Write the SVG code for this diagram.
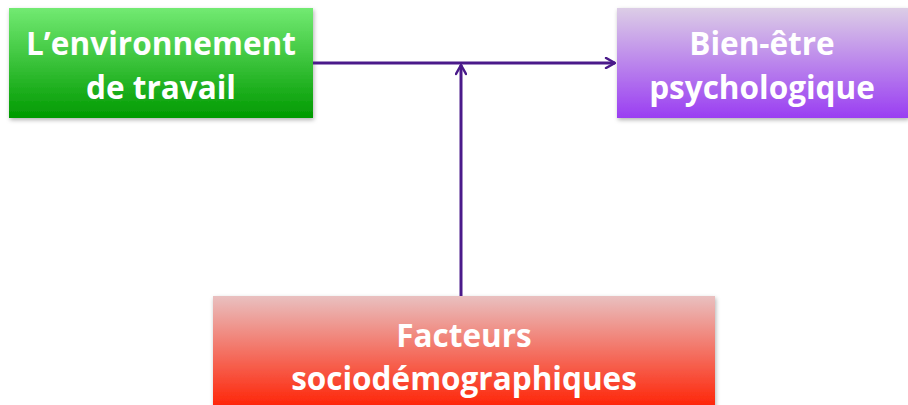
<svg xmlns="http://www.w3.org/2000/svg" width="908" height="405" viewBox="0 0 908 405">
<defs>
<linearGradient id="gGreen" x1="0" y1="0" x2="0" y2="1"><stop offset="0" stop-color="#72ea72"/><stop offset="1" stop-color="#009a00"/></linearGradient>
<linearGradient id="gPurple" x1="0" y1="0" x2="0" y2="1"><stop offset="0" stop-color="#dccde6"/><stop offset="1" stop-color="#9a3ef2"/></linearGradient>
<linearGradient id="gRed" x1="0" y1="0" x2="0" y2="1"><stop offset="0" stop-color="#e9c0c0"/><stop offset="1" stop-color="#ff1e00"/></linearGradient>
<filter id="sh" x="-5%" y="-10%" width="110%" height="130%"><feDropShadow dx="1" dy="2" stdDeviation="2" flood-color="#000" flood-opacity="0.3"/></filter>
<marker id="arr" viewBox="0 0 12 12" refX="11" refY="6" markerWidth="12" markerHeight="12" markerUnits="userSpaceOnUse" orient="auto"><path d="M2,1 L11,6 L2,11" fill="none" stroke="#4a1a8a" stroke-width="2.5" stroke-linecap="round" stroke-linejoin="round"/></marker>
</defs>
<style>
.lbl{font-family:"Open Sans","Liberation Sans",sans-serif;font-weight:bold;font-size:31.5px;fill:#fff;text-anchor:middle}
.con{stroke:#4a1a8a;stroke-width:3;fill:none}
</style>
<g id="node-env"><rect x="9" y="8" width="304" height="110" fill="url(#gGreen)" filter="url(#sh)"/><text class="lbl" x="161" y="55" textLength="270">L’environnement</text><text class="lbl" x="161" y="99">de travail</text></g>
<g id="node-bien"><rect x="617" y="8" width="291" height="110" fill="url(#gPurple)" filter="url(#sh)"/><text class="lbl" x="762" y="55">Bien-être</text><text class="lbl" x="762" y="99">psychologique</text></g>
<g id="node-fact"><rect x="213" y="296" width="502" height="115" fill="url(#gRed)" filter="url(#sh)"/><text class="lbl" x="464" y="347">Facteurs</text><text class="lbl" x="464" y="390">sociodémographiques</text></g>
<g id="connectors">
<line class="con" x1="313" y1="63" x2="615" y2="63" marker-end="url(#arr)"/>
<line class="con" x1="461" y1="296" x2="461" y2="65" marker-end="url(#arr)"/>
</g>
</svg>
